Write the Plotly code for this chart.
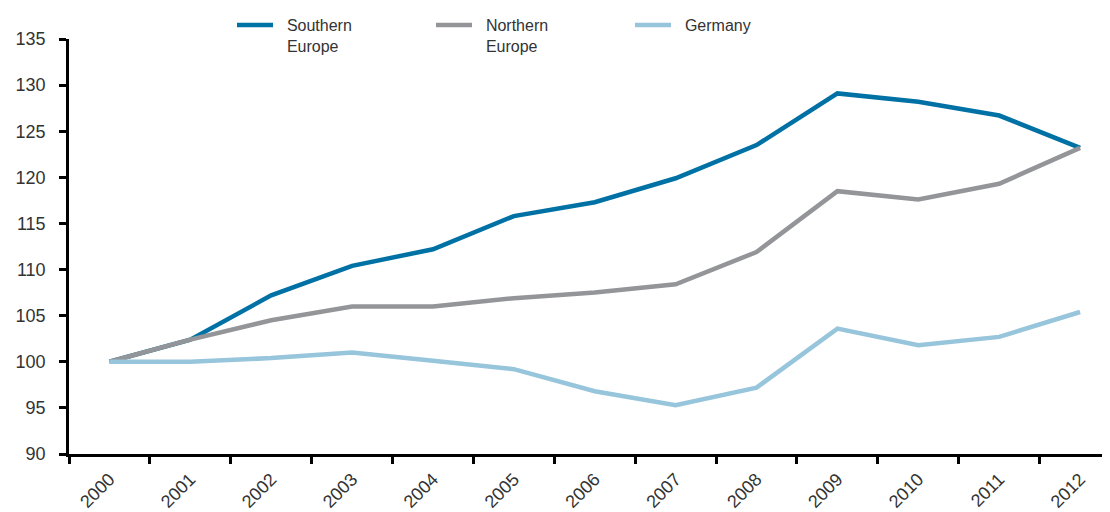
import plotly.graph_objects as go

years = [str(y) for y in range(2000, 2013)]
southern = [100, 102.4, 107.2, 110.4, 112.2, 115.8, 117.3, 119.9, 123.5, 129.1, 128.2, 126.7, 123.2]
northern = [100, 102.4, 104.5, 106.0, 106.0, 106.9, 107.5, 108.4, 111.9, 118.5, 117.6, 119.3, 123.2]
germany = [100, 100, 100.4, 101.0, 100.1, 99.2, 96.8, 95.3, 97.2, 103.6, 101.8, 102.7, 105.4]

pad = "\u00a0\u00a0"
series = [
    (pad + "Southern<br>" + pad + "Europe", southern, "#0071a4"),
    (pad + "Northern<br>" + pad + "Europe", northern, "#939598"),
    (pad + "Germany", germany, "#97c5dc"),
]

font = "Liberation Sans, Arial, sans-serif"
fig = go.Figure()
for name, vals, col in series:
    fig.add_trace(go.Scatter(x=years, y=vals, name=name, mode="lines",
                             line=dict(color=col, width=4.5)))

# page body has an 8px margin, so the figure is 8px smaller than the window
W, H = 1102, 504
fig.update_layout(
    width=W, height=H,
    margin=dict(l=61, r=0, t=31, b=58, autoexpand=False),
    plot_bgcolor="white", paper_bgcolor="white",
    font=dict(family=font, size=18, color="#333333"),
    legend=dict(orientation="h", x=(232 - 69) / (W - 61), xanchor="left",
                y=1.0, yanchor="top", yref="container",
                itemwidth=36,
                entrywidth=148, entrywidthmode="pixels", valign="top",
                font=dict(family=font, size=16, color="#333333"),
                traceorder="normal", bgcolor="rgba(0,0,0,0)"),
    showlegend=True,
)
fig.update_xaxes(type="category", range=[-0.5, 12.37], tickson="boundaries",
                 showline=True, linecolor="black", linewidth=2.5,
                 ticks="outside", ticklen=7, tickwidth=2.5, tickcolor="black",
                 tickangle=-45, showgrid=False, zeroline=False, automargin=False,
                 ticklabelstandoff=5,
                 tickfont=dict(size=18, color="#333333"))
fig.update_yaxes(range=[90, 135], dtick=5, showline=True, linecolor="black", linewidth=2.5,
                 ticks="outside", ticklen=7, tickwidth=2.5, tickcolor="black",
                 showgrid=False, zeroline=False, automargin=False,
                 ticklabelstandoff=10,
                 tickfont=dict(size=18, color="#333333"))

fig.write_html("out.html")
